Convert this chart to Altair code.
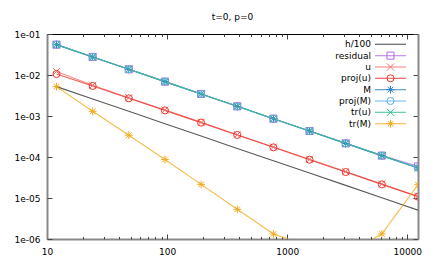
import altair as alt
import pandas as pd

# ---- data ----
xs = [12, 24, 48, 96, 192, 384, 768, 1536, 3072, 6144, 12288]
h100 = [5.2e-3, 2.6e-3, 1.3e-3, 6.5e-4, 3.25e-4, 1.62e-4, 8.1e-5, 4.05e-5, 2.03e-5, 1.01e-5, 5.05e-6]
residual = [0.055, 0.0275, 0.0138, 6.9e-3, 3.45e-3, 1.72e-3, 8.6e-4, 4.3e-4, 2.15e-4, 1.08e-4, 5.9e-5]
u = [0.0122, 0.0056, 0.0028, 1.4e-3, 7.0e-4, 3.5e-4, 1.75e-4, 8.8e-5, 4.4e-5, 2.2e-5, 1.1e-5]
proj_u = [0.0106, 0.0054, 0.0027, 1.37e-3, 6.9e-4, 3.45e-4, 1.72e-4, 8.6e-5, 4.3e-5, 2.15e-5, 1.08e-5]
M = [0.055, 0.0275, 0.0138, 6.9e-3, 3.45e-3, 1.72e-3, 8.6e-4, 4.3e-4, 2.15e-4, 1.08e-4, 5.4e-5]
proj_M = [0.055, 0.0275, 0.0138, 6.9e-3, 3.45e-3, 1.72e-3, 8.6e-4, 4.3e-4, 2.15e-4, 1.08e-4, 5.4e-5]
tr_u = [0.055, 0.0275, 0.0138, 6.9e-3, 3.45e-3, 1.72e-3, 8.6e-4, 4.3e-4, 2.15e-4, 1.08e-4, 5.4e-5]
tr_M = [5.2e-3, 1.3e-3, 3.4e-4, 8.7e-5, 2.15e-5, 5.3e-6, 1.32e-6, 6.6e-7, 4.2e-7, 1.33e-6, 2.1e-5]

names = ["h/100", "residual", "u", "proj(u)", "M", "proj(M)", "tr(u)", "tr(M)"]
series = [h100, residual, u, proj_u, M, proj_M, tr_u, tr_M]
colors = ["#303030", "#b36be6", "#f27272", "#e8372c", "#2f7fc1", "#62aee3", "#2fba8f", "#f0ab1c"]

x_major = [10, 100, 1000, 10000]
x_minor = [20, 30, 40, 50, 60, 70, 80, 90, 200, 300, 400, 500, 600, 700, 800, 900,
           2000, 3000, 4000, 5000, 6000, 7000, 8000, 9000]
y_major = [1e-6, 1e-5, 1e-4, 1e-3, 1e-2, 1e-1]

rows = []
for n, vals in zip(names, series):
    for xv, yv in zip(xs, vals):
        rows.append({"series": n, "mk": n, "x": xv, "y": yv})
df = pd.DataFrame(rows)
leg_df = pd.DataFrame({"series": names, "mk": names})

# ---- styles ----
F = "DejaVu Sans"
W, H = 371, 205
SQ = "M-1,-1H1V1H-1Z"
CR = "M-1,-1L1,1M-1,1L1,-1"
ST = "M-1.1,0H1.1M0,-1.1V1.1M-0.8,-0.8L0.8,0.8M-0.8,0.8L0.8,-0.8"
marker_paths = [SQ, CR, "circle", ST, "circle", CR, ST]

X = alt.Scale(type="log", domain=[10, 12288], nice=False)
Y = alt.Scale(type="log", domain=[1e-6, 1e-1], nice=False)
COL = alt.Scale(domain=names, range=colors)
SHP = alt.Scale(domain=names[1:], range=marker_paths)
YLEG = alt.Scale(type="point", domain=names, range=[10.3, 89.7], padding=0)

TICKC = "#444444"
ax_x_lab = alt.Axis(orient="bottom", values=x_major, format="d", tickSize=0, labelPadding=8,
                    domainColor="#888888", domainWidth=2, grid=False, labelFont=F, labelFontSize=9,
                    labelColor="#000000", labelFlush=False, labelOverlap=False, title=None)
ax_x_bmaj = alt.Axis(orient="top", offset=-H, values=x_major, tickSize=5, labels=False, domain=False,
                     tickColor=TICKC, grid=False, title=None)
ax_x_bmin = alt.Axis(orient="top", offset=-H, values=x_minor, tickSize=2.5, labels=False, domain=False,
                     tickColor=TICKC, grid=False, title=None)
ax_x_tmaj = alt.Axis(orient="bottom", offset=-H, values=x_major, tickSize=5, labels=False, domain=True,
                     domainColor="#000000", domainWidth=1, tickColor=TICKC, grid=False, title=None)
ax_x_tmin = alt.Axis(orient="bottom", offset=-H, values=x_minor, tickSize=2.5, labels=False, domain=False,
                     tickColor=TICKC, grid=False, title=None)

ax_y_lab = alt.Axis(orient="left", values=y_major, tickSize=0, labelPadding=7,
                    domainColor="#888888", domainWidth=2, grid=False, labelFont=F, labelFontSize=9,
                    labelColor="#000000", labelFlush=False, labelOverlap=False, title=None,
                    labelExpr="'1e-0' + round(-log(datum.value)/LN10)")
ax_y_lin = alt.Axis(orient="right", offset=-W, values=y_major, tickSize=5, labels=False, domain=False,
                    tickColor=TICKC, grid=False, title=None)
ax_y_rin = alt.Axis(orient="left", offset=-W, values=y_major, tickSize=5, labels=False, domain=True,
                    domainColor="#888888", domainWidth=2, tickColor=TICKC, grid=False, title=None)


def xe(ax):
    return alt.X("x:Q", scale=X, axis=ax, title=None)


def ye(ax):
    return alt.Y("y:Q", scale=Y, axis=ax, title=None)


colr = alt.Color("series:N", scale=COL, legend=None)
yleg = alt.Y("series:N", scale=YLEG, axis=None, title=None)

lines = alt.Chart(df).mark_line(clip=True, strokeWidth=1.1, opacity=0.8).encode(
    x=xe(ax_x_lab), y=ye(ax_y_lab), color=colr,
)

markers = alt.Chart(df).transform_filter("datum.series != 'h/100'").mark_point(
    clip=True, filled=False, size=50, strokeWidth=1, opacity=1
).encode(
    x=xe(ax_x_bmaj), y=ye(ax_y_lin), color=colr,
    shape=alt.Shape("mk:N", scale=SHP, legend=None),
)

d0 = alt.Chart(df).mark_point(clip=True, opacity=0).encode(x=xe(ax_x_bmin), y=ye(ax_y_rin))
d1 = alt.Chart(df).mark_point(clip=True, opacity=0).encode(x=xe(ax_x_tmaj), y=ye(None))
d2 = alt.Chart(df).mark_point(clip=True, opacity=0).encode(x=xe(ax_x_tmin), y=ye(None))

# ---- legend (gnuplot style: label, then line sample with marker) ----
leg_lines = alt.Chart(leg_df).mark_rule(strokeWidth=1.3, opacity=0.7).encode(
    x=alt.value(328), x2=alt.value(359), y=yleg, color=colr,
)
leg_pts = alt.Chart(leg_df).transform_filter("datum.series != 'h/100'").mark_point(
    filled=False, size=50, strokeWidth=1, opacity=1
).encode(
    x=alt.value(343.5), y=yleg, color=colr,
    shape=alt.Shape("mk:N", scale=SHP, legend=None),
)
leg_text = alt.Chart(leg_df).mark_text(align="right", baseline="middle", font=F, fontSize=9,
                                       color="#000000").encode(
    x=alt.value(324), y=yleg, text="series:N",
)

chart = alt.layer(lines, markers, d0, d1, d2, leg_lines, leg_pts, leg_text).resolve_scale(
    x="independent", y="independent"
).resolve_axis(
    x="independent", y="independent"
).properties(
    width=W, height=H,
    title=alt.Title("t=0, p=0", font=F, fontSize=9, fontWeight="normal", color="#000000",
                    anchor="middle", frame="group", offset=8),
    autosize=alt.AutoSizeParams(type="none"),
    padding={"left": 39, "top": 26, "right": 10, "bottom": 20},
    background="white",
).configure_view(stroke=None)

chart.save("out.html", embed_options={"renderer": "svg", "actions": False})
